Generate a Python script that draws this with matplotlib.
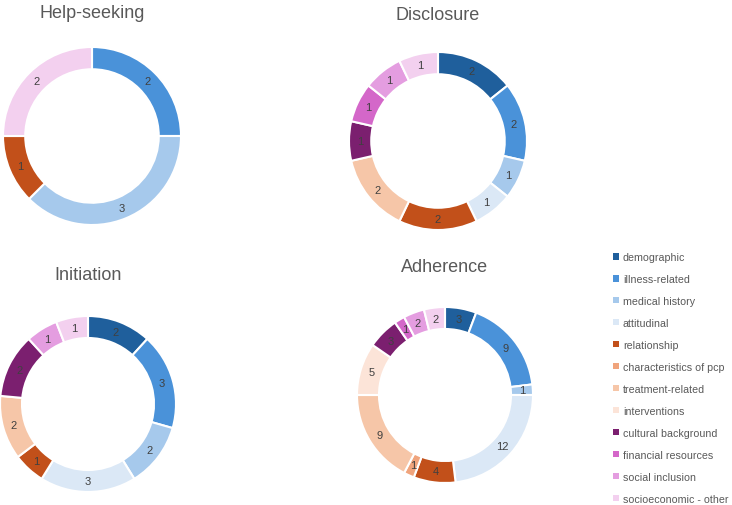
import matplotlib.pyplot as plt
from matplotlib.patches import Patch

plt.rcParams['font.family'] = ['Liberation Sans', 'DejaVu Sans']

categories = ["demographic", "illness-related", "medical history", "attitudinal",
              "relationship", "characteristics of pcp", "treatment-related",
              "interventions", "cultural background", "financial resources",
              "social inclusion", "socioeconomic - other"]
colors = ["#1f5f9c", "#4a92d9", "#a6c9ec", "#dbe8f6",
          "#c2501a", "#f0a47c", "#f6c6a8", "#fce4d8",
          "#7b1f6f", "#d467c9", "#e49de0", "#f3d0ef"]

help_seeking = [0, 2, 3, 0, 1, 0, 0, 0, 0, 0, 0, 2]
disclosure = [2, 2, 1, 1, 2, 0, 2, 0, 1, 1, 1, 1]
initiation = [2, 3, 2, 3, 1, 0, 2, 0, 2, 0, 1, 1]
adherence = [3, 9, 1, 12, 4, 1, 9, 5, 3, 1, 2, 2]

W, H = 732, 506
fig = plt.figure(figsize=(W / 100, H / 100), dpi=100)
ax = fig.add_axes([0, 0, 1, 1])

# (title, values, center x, center y, radius, title y) in pixels from top-left
charts = [
    ("Help-seeking", help_seeking, 92, 137, 89, 13),
    ("Disclosure", disclosure, 438, 142, 89, 15),
    ("Initiation", initiation, 88, 405, 88, 275),
    ("Adherence", adherence, 445, 396, 88, 268),
]

for title, vals, cx, cy, r, ty in charts:
    v = [x for x in vals if x > 0]
    c = [col for x, col in zip(vals, colors) if x > 0]
    total = sum(v)
    ax.pie(v, colors=c, center=(cx, H - cy), radius=r, startangle=90,
           counterclock=False,
           wedgeprops=dict(width=r * 0.25, edgecolor="white", linewidth=1.5),
           autopct=lambda p, t=total: "%d" % round(p * t / 100),
           pctdistance=0.875,
           textprops=dict(color="#404040", fontsize=8))
    ax.text(cx, H - ty, title, ha="center", va="center", fontsize=13,
            color="#595959")

ax.set_xlim(0, W)
ax.set_ylim(0, H)
ax.set_aspect("equal")
ax.axis("off")

handles = [Patch(facecolor=col, edgecolor="none") for col in colors]
leg = ax.legend(handles, categories, loc="upper left",
                bbox_to_anchor=(609 / W, 1 - 249 / H), frameon=False,
                fontsize=7.7, handlelength=0.5, handleheight=0.5,
                handletextpad=0.4, labelspacing=1.12, borderaxespad=0)
for t in leg.get_texts():
    t.set_color("#595959")

fig.savefig("out.png", dpi=100)
